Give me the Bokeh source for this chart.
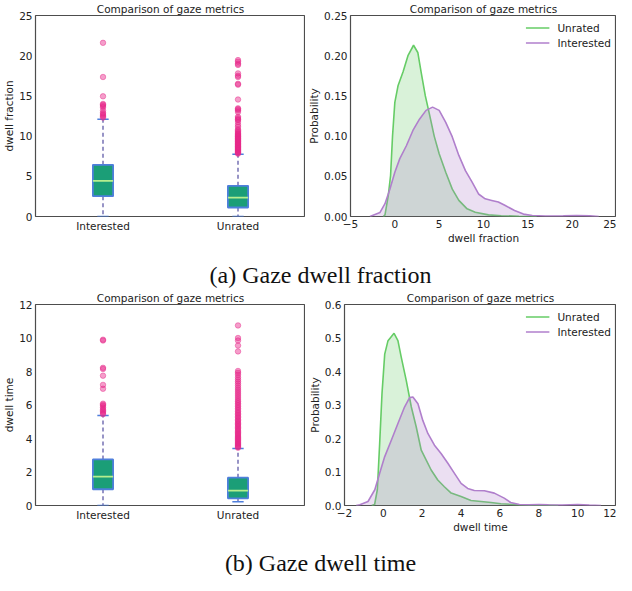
from bokeh.plotting import figure
from bokeh.layouts import column, row
from bokeh.models import Range1d, FixedTicker, PrintfTickFormatter, Label, Legend, LegendItem
from bokeh.embed import file_html
from bokeh.resources import INLINE

# ---------------- data ----------------
categories = ["Interested", "Unrated"]
cat_pos = [1, 2]

# dwell fraction box statistics
frac_lo = [0.0, 0.0]
frac_q1 = [2.53, 1.12]
frac_med = [4.44, 2.36]
frac_q3 = [6.43, 3.81]
frac_hi = [12.1, 7.75]
frac_fliers_interested = [12.3, 12.45, 12.6, 12.75, 12.9, 13.2, 13.6, 13.75, 13.9, 14.0,
                          14.95, 17.35, 21.6]
frac_fliers_unrated = [7.82, 7.9, 7.98, 8.07, 8.15, 8.24, 8.33, 8.4, 8.5, 8.58, 8.66, 8.75,
                       8.85, 8.93, 9.02, 9.1, 9.2, 9.3, 9.38, 9.47, 9.55, 9.65, 9.74, 9.83,
                       9.92, 10.0, 10.1, 10.2, 10.3, 10.4, 10.55, 10.7, 10.85, 11.15, 11.4,
                       11.75, 12.0, 12.1, 12.25, 12.4, 13.0, 13.2, 13.35, 13.45, 14.55,
                       16.4, 16.5, 17.35, 17.5, 17.8, 18.85, 19.0, 19.25, 19.45]

# dwell time box statistics
time_lo = [0.0, 0.22]
time_q1 = [0.97, 0.43]
time_med = [1.72, 0.89]
time_q3 = [2.75, 1.66]
time_hi = [5.37, 3.41]
time_fliers_interested = [5.45, 5.52, 5.6, 5.68, 5.75, 5.85, 5.95, 6.02, 6.08, 6.97, 7.2,
                          7.75, 8.15, 8.22, 9.85, 9.9]
time_fliers_unrated = [3.45, 3.5, 3.56, 3.62, 3.68, 3.74, 3.8, 3.87, 3.94, 4.0, 4.07, 4.14,
                       4.21, 4.28, 4.35, 4.43, 4.5, 4.58, 4.66, 4.74, 4.82, 4.9, 4.98, 5.06,
                       5.15, 5.24, 5.33, 5.42, 5.51, 5.6, 5.7, 5.8, 5.9, 6.0, 6.1, 6.2, 6.3,
                       6.42, 6.54, 6.66, 6.78, 6.9, 7.02, 7.15, 7.28, 7.4, 7.52, 7.65, 7.8,
                       7.92, 8.03, 9.2, 9.55, 9.85, 10.0, 10.75]

# KDE: dwell fraction
frac_unrated_x = [-1.3, -1.11, -0.74, -0.48, -0.26, 0.0, 0.37, 0.93, 1.48, 2.11, 2.59, 2.96,
                  3.44, 3.89, 4.44, 5.0, 5.74, 6.48, 7.22, 8.15, 9.07, 10.56, 12.0, 14.0, 16.0]
frac_unrated_y = [0.0, 0.002, 0.026, 0.051, 0.10, 0.142, 0.163, 0.18, 0.20, 0.213, 0.204, 0.18,
                  0.15, 0.128, 0.10, 0.078, 0.055, 0.034, 0.020, 0.0095, 0.0054, 0.002, 0.001,
                  0.0003, 0.0]
frac_interested_x = [-2.8, -2.6, -1.67, -1.11, -0.56, 0.0, 0.56, 1.3, 2.04, 2.78, 3.52, 4.26,
                     5.0, 5.74, 6.48, 7.22, 7.96, 8.7, 9.44, 10.19, 10.93, 11.67, 12.4, 13.5,
                     14.5, 15.5, 17.0, 19.0, 20.5, 22.0, 23.0]
frac_interested_y = [0.0, 0.001, 0.005, 0.016, 0.034, 0.055, 0.072, 0.088, 0.107, 0.121, 0.132,
                     0.136, 0.132, 0.117, 0.099, 0.076, 0.057, 0.043, 0.028, 0.022, 0.020,
                     0.018, 0.014, 0.0075, 0.003, 0.0012, 0.0006, 0.0008, 0.0012, 0.0008, 0.0]

# KDE: dwell time
time_unrated_x = [-0.6, -0.45, -0.31, -0.19, -0.07, 0.07, 0.24, 0.55, 0.75, 0.92, 1.18, 1.44,
                  1.69, 1.95, 2.2, 2.46, 2.8, 3.14, 3.49, 4.0, 4.51, 5.03, 5.54, 6.05, 7.0,
                  8.0, 9.0]
time_unrated_y = [0.0, 0.003, 0.047, 0.185, 0.334, 0.452, 0.492, 0.514, 0.492, 0.443, 0.373,
                  0.294, 0.235, 0.165, 0.136, 0.106, 0.076, 0.056, 0.037, 0.027, 0.015, 0.012,
                  0.009, 0.005, 0.002, 0.001, 0.0]
time_interested_x = [-1.4, -1.21, -0.79, -0.44, -0.19, 0.07, 0.41, 0.75, 1.09, 1.35, 1.52,
                     1.78, 2.03, 2.29, 2.63, 2.97, 3.32, 3.66, 4.0, 4.34, 4.68, 5.2, 5.71,
                     6.22, 6.55, 7.0, 7.5, 8.0, 8.5, 9.2, 10.0, 10.6, 11.2]
time_interested_y = [0.0, 0.002, 0.012, 0.047, 0.096, 0.146, 0.195, 0.245, 0.294, 0.322,
                     0.324, 0.304, 0.254, 0.215, 0.18, 0.155, 0.126, 0.096, 0.066, 0.051,
                     0.045, 0.044, 0.037, 0.022, 0.009, 0.003, 0.002, 0.003, 0.002, 0.001,
                     0.003, 0.001, 0.0]

title_text = "Comparison of gaze metrics"
caption_a = "(a) Gaze dwell fraction"
caption_b = "(b) Gaze dwell time"

# ---------------- style ----------------
FONT = "DejaVu Sans"
FS = "10.5px"
FRAME = "#4d4d4d"
BOX_FILL = "#1b9e77"
BOX_EDGE = "#4f7fdc"
WHISKER = "#7570b3"
MEDIAN = "#b5ee8e"
FLIER = "#e7298a"
GREEN = "#66cc66"
PURPLE = "#b07fcc"
ROW_H = 246


def style(p):
    p.outline_line_color = FRAME
    p.outline_line_width = 1.2
    p.xgrid.visible = False
    p.ygrid.visible = False
    p.background_fill_color = "white"
    p.border_fill_color = "white"
    p.title.text_font = FONT
    p.title.text_font_size = FS
    p.title.text_font_style = "normal"
    p.title.align = "center"
    p.title.standoff = 1
    p.title.text_color = "#222222"
    for ax in (p.xaxis[0], p.yaxis[0]):
        ax.axis_line_color = None
        ax.major_tick_line_color = None
        ax.minor_tick_line_color = None
        ax.major_tick_out = 0
        ax.major_tick_in = 0
        ax.minor_tick_out = 0
        ax.minor_tick_in = 0
        ax.major_label_text_font = FONT
        ax.major_label_text_font_size = FS
        ax.major_label_text_color = "#222222"
        ax.major_label_standoff = 3
        ax.axis_label_text_font = FONT
        ax.axis_label_text_font_size = FS
        ax.axis_label_text_font_style = "normal"
        ax.axis_label_text_color = "#222222"
        ax.axis_label_standoff = 1


def boxfig(lo, q1, med, q3, hi, fl_int, fl_unr, ymax, ystep, ylabel, width, mb_left, mb_right):
    p = figure(width=width, height=ROW_H, output_backend="svg", toolbar_location=None,
               x_range=Range1d(0.5, 2.5), y_range=Range1d(0, ymax),
               title=title_text, min_border_left=mb_left, min_border_right=mb_right,
               min_border_bottom=30, min_border_top=0)
    style(p)
    p.xaxis.ticker = FixedTicker(ticks=cat_pos)
    p.xaxis.major_label_overrides = {c: n for c, n in zip(cat_pos, categories)}
    p.yaxis.ticker = FixedTicker(ticks=list(range(0, ymax + 1, ystep)))
    p.yaxis.axis_label = ylabel
    bw = 0.075
    cw = 0.042
    # whiskers
    p.segment(x0=cat_pos, y0=q3, x1=cat_pos, y1=hi, line_color=WHISKER, line_width=1.5,
              line_dash="4 3")
    p.segment(x0=cat_pos, y0=q1, x1=cat_pos, y1=lo, line_color=WHISKER, line_width=1.5,
              line_dash="4 3")
    # caps
    p.segment(x0=[c - cw for c in cat_pos], y0=hi, x1=[c + cw for c in cat_pos], y1=hi,
              line_color=BOX_EDGE, line_width=1.5)
    p.segment(x0=[c - cw for c in cat_pos], y0=lo, x1=[c + cw for c in cat_pos], y1=lo,
              line_color=BOX_EDGE, line_width=1.5)
    # boxes
    p.quad(left=[c - bw for c in cat_pos], right=[c + bw for c in cat_pos], bottom=q1, top=q3,
           fill_color=BOX_FILL, line_color=BOX_EDGE, line_width=1.8)
    # medians
    p.segment(x0=[c - bw for c in cat_pos], y0=med, x1=[c + bw for c in cat_pos], y1=med,
              line_color=MEDIAN, line_width=1.8)
    # fliers
    p.scatter(x=[cat_pos[0]] * len(fl_int), y=fl_int, size=5.5, fill_color=FLIER,
              line_color=FLIER, fill_alpha=0.45, line_alpha=0.45)
    p.scatter(x=[cat_pos[1]] * len(fl_unr), y=fl_unr, size=5.5, fill_color=FLIER,
              line_color=FLIER, fill_alpha=0.45, line_alpha=0.45)
    return p


def kdefig(ux, uy, ix, iy, xr, xstep, yr, ystep, yfmt, xlabel, width, mb_right):
    p = figure(width=width, height=ROW_H, output_backend="svg", toolbar_location=None,
               x_range=Range1d(*xr), y_range=Range1d(*yr), title=title_text,
               min_border_left=0, min_border_right=mb_right, min_border_bottom=30,
               min_border_top=0)
    style(p)
    xt = list(range(xr[0], xr[1] + 1, xstep))
    p.xaxis.ticker = FixedTicker(ticks=xt)
    p.xaxis.major_label_overrides = {t: ("\u2212" + str(-t)) for t in xt if t < 0}
    p.yaxis.ticker = FixedTicker(ticks=ystep)
    p.yaxis.formatter = PrintfTickFormatter(format=yfmt)
    p.xaxis.axis_label = xlabel
    p.yaxis.axis_label = "Probability"
    p.varea(x=ux, y1=[0] * len(ux), y2=uy, fill_color=GREEN, fill_alpha=0.25)
    lu = p.line(ux, uy, line_color=GREEN, line_width=1.6)
    p.varea(x=ix, y1=[0] * len(ix), y2=iy, fill_color=PURPLE, fill_alpha=0.25)
    li = p.line(ix, iy, line_color=PURPLE, line_width=1.6)
    leg = Legend(items=[LegendItem(label="Unrated", renderers=[lu]),
                        LegendItem(label="Interested", renderers=[li])],
                 location="top_right", border_line_color=None, background_fill_alpha=0,
                 margin=5, padding=9, spacing=0, glyph_width=24, glyph_height=15,
                 label_height=15, label_standoff=8, label_text_font=FONT,
                 label_text_font_size=FS, label_text_color="#222222")
    p.add_layout(leg)
    return p


def caption(text, h, xc, yc):
    p = figure(width=616, height=h, output_backend="svg", toolbar_location=None,
               x_range=Range1d(0, 616), y_range=Range1d(0, h), min_border=0,
               x_axis_location=None, y_axis_location=None)
    p.grid.visible = False
    p.outline_line_color = None
    p.add_layout(Label(x=xc, y=yc, text=text, text_align="center", text_baseline="middle",
                       text_font="Liberation Serif", text_font_size="24px",
                       text_color="#111111"))
    return p


pa = boxfig(frac_lo, frac_q1, frac_med, frac_q3, frac_hi, frac_fliers_interested,
            frac_fliers_unrated, 25, 5, "dwell fraction", 305, 31, 0)
pb = kdefig(frac_unrated_x, frac_unrated_y, frac_interested_x, frac_interested_y,
            (-5, 25), 5, (0, 0.25), [0, 0.05, 0.10, 0.15, 0.20, 0.25], "%.2f",
            "dwell fraction", 311, 0)
pc = boxfig(time_lo, time_q1, time_med, time_q3, time_hi, time_fliers_interested,
            time_fliers_unrated, 12, 2, "dwell time", 305, 31, 0)
pd = kdefig(time_unrated_x, time_unrated_y, time_interested_x, time_interested_y,
            (-2, 12), 2, (0, 0.6), [0, 0.1, 0.2, 0.3, 0.4, 0.5, 0.6], "%.1f",
            "dwell time", 311, 0)

ca = caption(caption_a, 43, 320, 15)
cb = caption(caption_b, 40, 320, 13)

layout = column(row(pa, pb), ca, row(pc, pd), cb)

with open("out.html", "w") as f:
    f.write(file_html(layout, INLINE))
